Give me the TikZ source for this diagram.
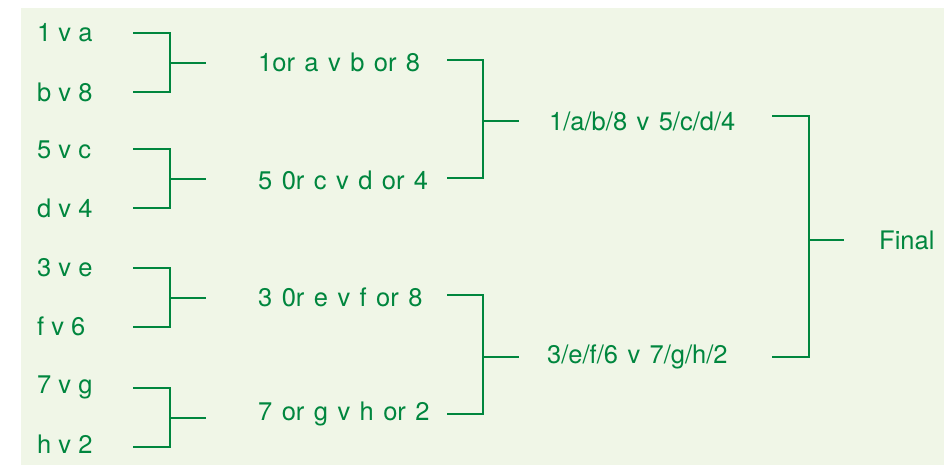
\documentclass[tikz,border=0pt]{standalone}
\usepackage{fontspec}
\setmainfont{TeX Gyre Heros}
\definecolor{ink}{RGB}{0,134,62}
\definecolor{panel}{RGB}{240,246,231}
\newcommand\widewords{\spaceskip 0.37em\relax}
\tikzset{
  lbl/.style={anchor=west, inner sep=0pt, text=ink, font=\fontsize{25.5}{30}\selectfont},
  widelbl/.style={lbl, execute at begin node=\widewords},
  link/.style={draw=ink, line width=2.7pt, line cap=butt, line join=miter},
}
\begin{document}
\begin{tikzpicture}[x=1pt, y=-1pt]
  \useasboundingbox (0,0) rectangle (944,465);
  \fill[panel] (21,8) rectangle (944,465);

  % first round
  \node[lbl] (m1) at (37,33)  {1 v a};
  \node[lbl] (m2) at (37,92)  {b v 8};
  \node[lbl] (m3) at (37,150) {5 v c};
  \node[lbl] (m4) at (37,208) {d v 4};
  \node[lbl] (m5) at (37,268) {3 v e};
  \node[lbl] (m6) at (37,326) {f v 6};
  \node[lbl] (m7) at (37,387) {7 v g};
  \node[lbl] (m8) at (37,444) {h v 2};

  % quarter finals
  \node[widelbl] (q1) at (258,62)  {1or a v b or 8};
  \node[widelbl] (q2) at (258,180) {5 0r c v d or 4};
  \node[widelbl] (q3) at (258,297) {3 0r e v f or 8};
  \node[widelbl] (q4) at (258,414) {7 or g v h or 2};

  % semi finals
  \node[widelbl] (s1) at (549,121) {1/a/b/8 v 5/c/d/4};
  \node[widelbl] (s2) at (547,357) {3/e/f/6 v 7/g/h/2};

  % final
  \node[lbl] (f) at (879,240) {Final};

  % bracket arms
  \coordinate (a1) at (133,33);  \coordinate (a2) at (133,92);
  \coordinate (a3) at (133,149); \coordinate (a4) at (133,208);
  \coordinate (a5) at (133,268); \coordinate (a6) at (133,327);
  \coordinate (a7) at (133,388); \coordinate (a8) at (133,447);
  \coordinate (b1) at (447,60);  \coordinate (b2) at (447,178);
  \coordinate (b3) at (447,295); \coordinate (b4) at (447,414);
  \coordinate (c1) at (772,116); \coordinate (c2) at (772,357);
  % stubs leaving each bracket
  \coordinate (ma) at (170,63);  \coordinate (mb) at (170,179);
  \coordinate (mc) at (170,298); \coordinate (md) at (170,418);
  \coordinate (na) at (483,121); \coordinate (nb) at (483,357);
  \coordinate (oa) at (809,240);

  % first round brackets
  \foreach \t/\b/\m in {a1/a2/ma,a3/a4/mb,a5/a6/mc,a7/a8/md}{
    \draw[link] (\t) -| (\m) |- (\b);
    \draw[link] (\m) -- ++(36,0);
  }
  % quarter final brackets
  \foreach \t/\b/\m in {b1/b2/na,b3/b4/nb}{
    \draw[link] (\t) -| (\m) |- (\b);
    \draw[link] (\m) -- ++(36,0);
  }
  % semi final bracket
  \draw[link] (c1) -| (oa) |- (c2);
  \draw[link] (oa) -- ++(35,0);
\end{tikzpicture}
\end{document}
